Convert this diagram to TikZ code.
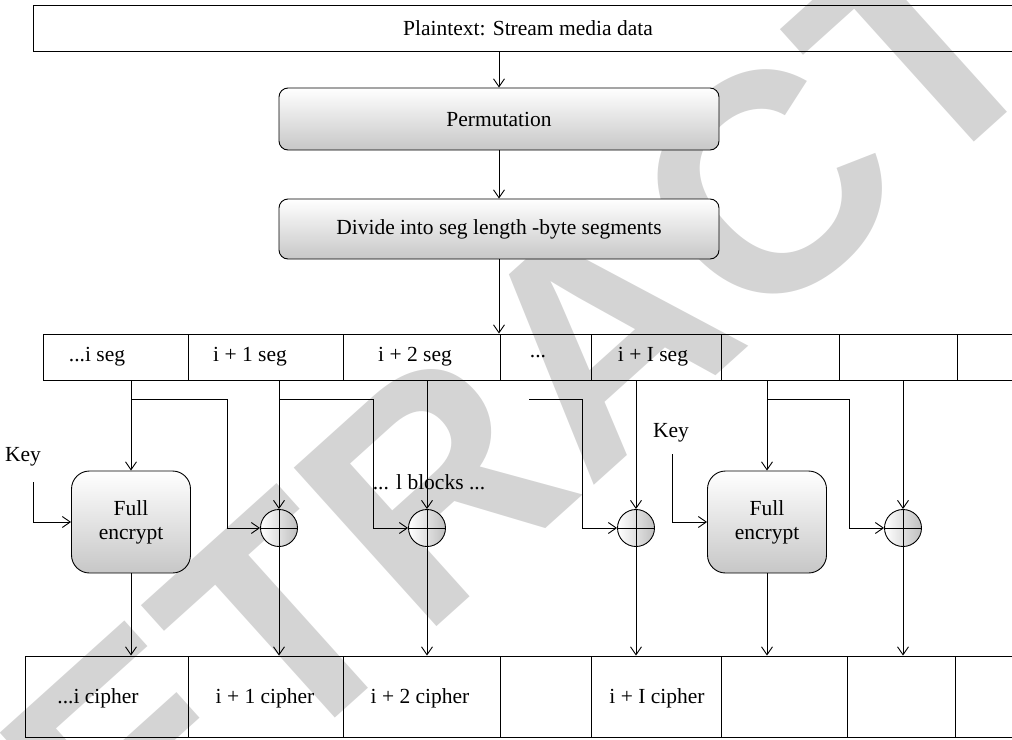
\documentclass[tikz,border=0pt]{standalone}
\usepackage{fontspec}
\setmainfont{Liberation Serif}
\newfontfamily\wmfont{Liberation Sans}
\usetikzlibrary{arrows.meta,calc}
\definecolor{wmgrey}{HTML}{D4D4D4}
\begin{document}
\begin{tikzpicture}[x=1pt,y=-1pt,
  font=\fontsize{21.5}{24}\selectfont,
  line width=0.9pt,
  >={Straight Barb[length=8pt,width=11pt]},
  plainbox/.style={draw, inner sep=0pt},
  procbox/.style={draw, rounded corners=9pt, inner sep=0pt,
    top color=white, bottom color=black!22},
  encbox/.style={draw, rounded corners=18pt, inner sep=0pt, align=center,
    top color=white, bottom color=black!22, minimum width=119pt, minimum height=102pt},
  xorbox/.style={draw, circle, inner sep=0pt, minimum size=37pt,
    left color=white, right color=black!25},
  segcell/.style={draw, inner sep=0pt, minimum height=46pt},
  ciphcell/.style={draw, inner sep=0pt, minimum height=81pt},
  lbl/.style={inner sep=1pt}
]
\useasboundingbox (0,0) rectangle (1012,739);
\clip (0,0) rectangle (1012,739);

% background stamp
\node[rotate=42, text=wmgrey, font=\wmfont\bfseries\fontsize{310}{310}\selectfont]
  (stamp) at (600,336) {RETRACTED};

% top chain
\node[plainbox, minimum width=990pt, minimum height=46pt] (plain) at (528,28) {Plaintext: Stream media data};
\node[procbox, minimum width=440pt, minimum height=62pt] (perm) at (499,119) {Permutation};
\node[procbox, minimum width=440pt, minimum height=60pt] (div) at (499,229) {Divide into seg length -byte segments};

% segment row
\node[segcell, minimum width=145pt] (s1) at (115.5,357) {};
\node[segcell, minimum width=155pt] (s2) at (265.5,357) {};
\node[segcell, minimum width=157pt] (s3) at (421.5,357) {};
\node[segcell, minimum width=91pt]  (s4) at (545.5,357) {};
\node[segcell, minimum width=130pt] (s5) at (656,357) {};
\node[segcell, minimum width=118pt] (s6) at (780,357) {};
\node[segcell, minimum width=118pt] (s7) at (898,357) {};
\node[segcell, minimum width=123pt] (s8) at (1018.5,357) {};
\node[lbl] (t1) at (97,357) {...i seg};
\node[lbl] (t2) at (250,357) {i + 1 seg};
\node[lbl] (t3) at (415,357) {i + 2 seg};
\node[lbl] (t4) at (538,357) {...};
\node[lbl] (t5) at (653,357) {i + I seg};

% cipher row
\node[ciphcell, minimum width=163pt] (c1) at (106.5,696.5) {};
\node[ciphcell, minimum width=155pt] (c2) at (265.5,696.5) {};
\node[ciphcell, minimum width=157pt] (c3) at (421.5,696.5) {};
\node[ciphcell, minimum width=91pt]  (c4) at (545.5,696.5) {};
\node[ciphcell, minimum width=130pt] (c5) at (656,696.5) {};
\node[ciphcell, minimum width=126pt] (c6) at (784,696.5) {};
\node[ciphcell, minimum width=108pt] (c7) at (901,696.5) {};
\node[ciphcell, minimum width=125pt] (c8) at (1017.5,696.5) {};
\node[lbl] (u1) at (98,698) {...i cipher};
\node[lbl] (u2) at (265,698) {i + 1 cipher};
\node[lbl] (u3) at (420,698) {i + 2 cipher};
\node[lbl] (u5) at (657,698) {i + I cipher};

% encryption blocks and xor nodes
\node[encbox] (fe1) at (131,522) {Full\\encrypt};
\node[encbox] (fe2) at (767,522) {Full\\encrypt};
\node[xorbox] (x1) at (279,528) {};
\node[xorbox] (x2) at (427,528) {};
\node[xorbox] (x3) at (636,528) {};
\node[xorbox] (x4) at (903,528) {};

\node[lbl] (key1) at (23,457) {Key};
\node[lbl] (key2) at (671,433) {Key};
\node[lbl] (blk) at (429,482) {... l blocks ...};

\coordinate (k1) at (33,482);
\coordinate (k2) at (672,454);
\coordinate (b1) at (227,399);
\coordinate (b2) at (373,399);
\coordinate (b3s) at (529,399);
\coordinate (b3) at (582,399);
\coordinate (b4) at (849,399);

% top chain arrows
\draw[->] (perm.north |- plain.south) -- (perm.north);
\draw[->] (perm.south) -- (div.north);
\draw[->] (div.south) -- (div.south |- s4.north);

% full encrypt paths
\draw[->] (fe1.north |- s1.south) -- (fe1.north);
\draw[->] (fe1.south) -- (fe1.south |- c1.north);
\draw[->] (fe2.north |- s6.south) -- (fe2.north);
\draw[->] (fe2.south) -- (fe2.south |- c6.north);
\draw[->] (k1) |- (fe1.west);
\draw[->] (k2) |- (fe2.west);

% branches into the xor nodes
\draw[->] (fe1.north |- b1) -- (b1) |- (x1.west);
\draw[->] (x1.north |- b2) -- (b2) |- (x2.west);
\draw[->] (b3s) -- (b3) |- (x3.west);
\draw[->] (fe2.north |- b4) -- (b4) |- (x4.west);

% xor verticals and crosses
\foreach \x/\s/\c in {x1/s2/c2, x2/s3/c3, x3/s5/c5, x4/s7/c7}{
  \draw[->] (\x.north |- \s.south) -- (\x.north);
  \draw (\x.north) -- (\x.south);
  \draw (\x.west) -- (\x.east);
  \draw[->] (\x.south) -- (\x.south |- \c.north);
}
\end{tikzpicture}
\end{document}
